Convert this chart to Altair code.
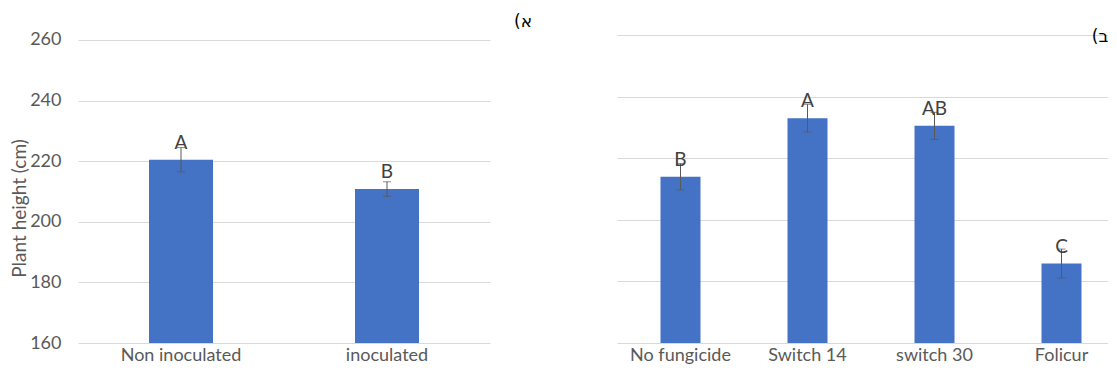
import altair as alt
import pandas as pd

FONT = "Lato"

left_cats = ["Non inoculated", "inoculated"]
left_vals = [220.5, 210.8]
left_err = [4.0, 2.4]
left_letters = ["A", "B"]

right_cats = ["No fungicide", "Switch 14", "switch 30", "Folicur"]
right_vals = [214.0, 233.0, 230.5, 185.8]
right_err = [4.3, 4.5, 4.4, 4.7]
right_letters = ["B", "A", "AB", "C"]

y_ticks = [160, 180, 200, 220, 240, 260]
panel_tags = ["(א", "(ב"]


def make_df(cats, vals, errs, letters):
    return pd.DataFrame({
        "cat": cats,
        "val": vals,
        "lo": [v - e for v, e in zip(vals, errs)],
        "hi": [v + e for v, e in zip(vals, errs)],
        "letter": letters,
    })


def panel(df, cats, width, height, bar_size, domain, show_axis, tag, tag_x, tag_y):
    x = alt.X(
        "cat:N", sort=cats,
        scale=alt.Scale(paddingInner=0, paddingOuter=0),
        axis=alt.Axis(title=None, labelAngle=0, ticks=False, domain=False,
                      labelPadding=3, labelFontSize=18, labelColor="#595959",
                      labelFont=FONT),
    )
    if show_axis:
        yaxis = alt.Axis(values=y_ticks, title="Plant height (cm)", ticks=False,
                         domain=False, labelPadding=17, labelFontSize=18,
                         labelColor="#595959", labelFont=FONT, titleFont=FONT,
                         titleFontSize=19, titleFontWeight="normal",
                         titleColor="#595959", titlePadding=0, titleY=173,
                         gridColor="#D9D9D9")
    else:
        yaxis = alt.Axis(values=y_ticks, title=None, labels=False, ticks=False,
                         domain=False, gridColor="#D9D9D9")
    yscale = alt.Scale(domain=domain, nice=False, zero=False)

    def Y(field):
        return alt.Y(f"{field}:Q", scale=yscale, axis=yaxis)

    base = alt.Chart(df)
    bars = base.mark_bar(color="#4472C4", size=bar_size).encode(
        x=x, y=Y("val"), y2=alt.datum(y_ticks[0]))
    rule = base.mark_rule(color="#595959", strokeWidth=1).encode(
        x=x, y=Y("lo"), y2="hi:Q")
    cap_lo = base.mark_tick(orient="horizontal", size=8, thickness=1,
                            color="#595959").encode(x=x, y=Y("lo"))
    cap_hi = base.mark_tick(orient="horizontal", size=8, thickness=1,
                            color="#595959").encode(x=x, y=Y("hi"))
    letters = base.mark_text(baseline="alphabetic", dy=-11, fontSize=19,
                             font=FONT, color="#404040").encode(
        x=x, y=Y("val"), text="letter:N")
    tag_chart = alt.Chart(pd.DataFrame({"t": [tag]})).mark_text(
        fontSize=17, font="DejaVu Sans", color="#000000", align="center",
        baseline="middle").encode(x=alt.value(tag_x), y=alt.value(tag_y), text="t:N")
    return alt.layer(bars, rule, cap_lo, cap_hi, letters, tag_chart).properties(
        width=width, height=height)


left = panel(make_df(left_cats, left_vals, left_err, left_letters), left_cats,
             412, 308, 64, [160, 261.65], True, panel_tags[0], 445, -13)
right = panel(make_df(right_cats, right_vals, right_err, right_letters), right_cats,
              508, 308, 40, [160, 260], False, panel_tags[1], 483, 2)

chart = alt.hconcat(left, right, spacing=127, bounds="flush").properties(
    padding={"left": 2, "top": 5, "right": -17, "bottom": 1}
).configure_view(stroke=None)

chart.save("out.html", embed_options={"renderer": "svg", "actions": False})
